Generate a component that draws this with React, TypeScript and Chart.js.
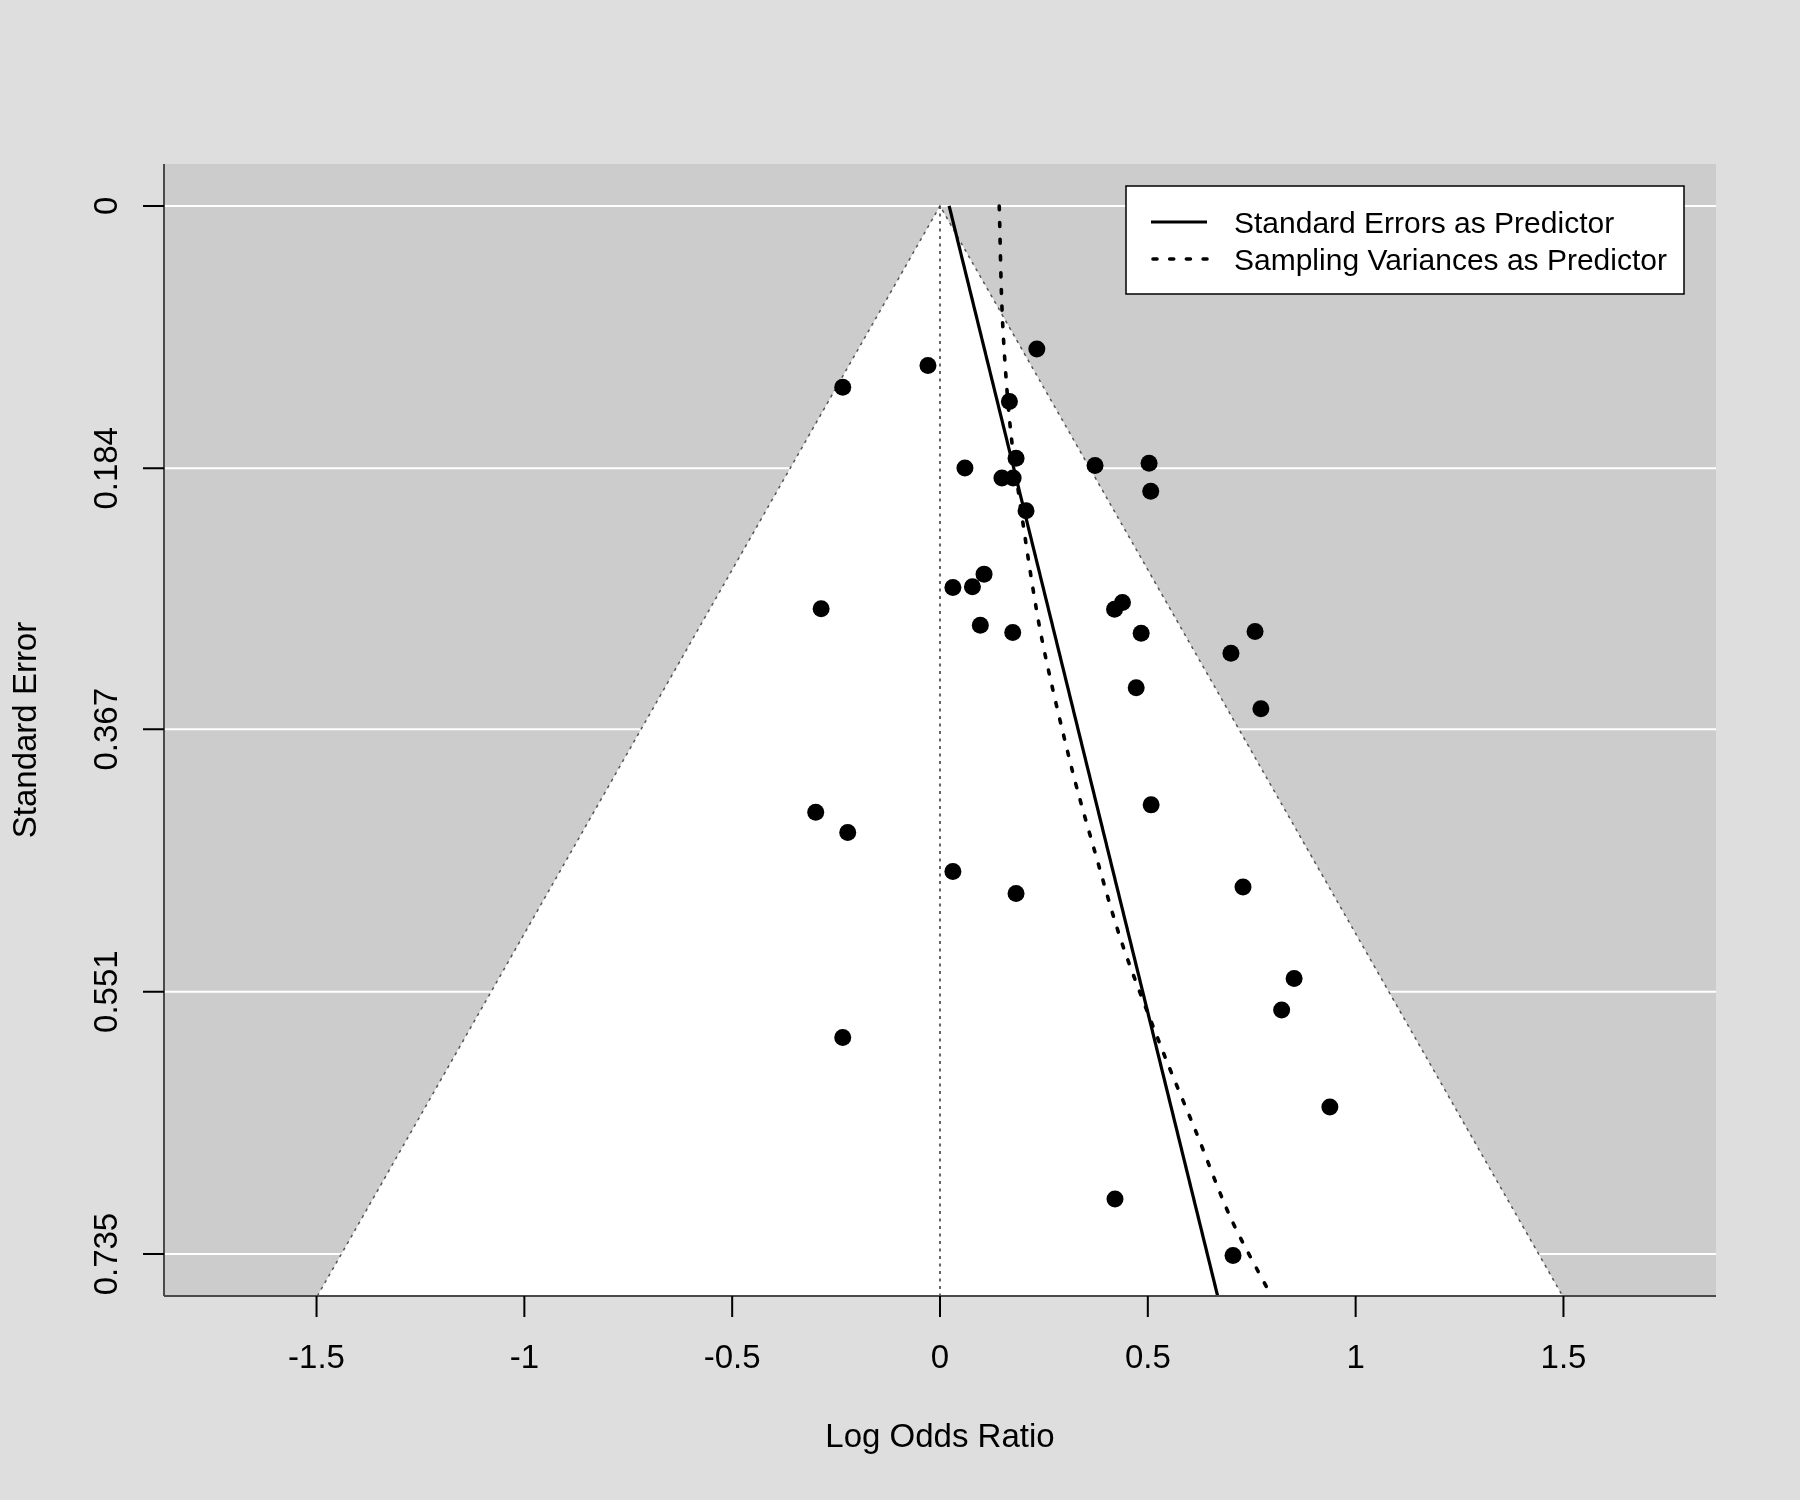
import { useEffect, useRef } from "react";
import { Chart, registerables } from "chart.js";

Chart.register(...registerables);

// observed studies: log odds ratio and its standard error
const studyLogOR = [
  0.233, -0.029, -0.234, 0.167, 0.183, 0.373, 0.503, 0.06, 0.149, 0.176,
  0.507, 0.207, 0.106, 0.031, 0.078, -0.286, 0.42, 0.439, 0.097, 0.175,
  0.484, 0.758, 0.7, 0.472, 0.772, 0.508, -0.299, -0.222, 0.031, 0.183,
  0.729, 0.852, 0.822, -0.234, 0.938, 0.421, 0.705,
];
const studySE = [
  0.1004, 0.1119, 0.1271, 0.1372, 0.177, 0.1821, 0.1805, 0.1837, 0.1908, 0.1908,
  0.2001, 0.2137, 0.2582, 0.2676, 0.2671, 0.2825, 0.2828, 0.2781, 0.294, 0.2992,
  0.2996, 0.2985, 0.3137, 0.3378, 0.3526, 0.42, 0.4251, 0.4394, 0.4668, 0.4822,
  0.4776, 0.5417, 0.5639, 0.5831, 0.6318, 0.6964, 0.736,
];

// regression line, standard errors as predictor
const seLineX = [0.022, 0.668];
const seLineY = [0, 0.7644];

// regression curve, sampling variances as predictor
const varCurveX = [0.1425, 0.1506, 0.169, 0.1987, 0.2444, 0.3166, 0.371, 0.439, 0.5395, 0.6157, 0.6999, 0.796];
const varCurveY = [0, 0.0815, 0.155, 0.2207, 0.3027, 0.394, 0.4513, 0.518, 0.5953, 0.6491, 0.71, 0.7638];

// pseudo confidence region
const funnelX = [-1.498, 0, 1.498];
const funnelY = [0.7644, 0, 0.7644];
const refX = [0, 0];
const refY = [0, 0.7644];

const xTicks = [-1.5, -1, -0.5, 0, 0.5, 1, 1.5];
const xTickLabels = ["-1.5", "-1", "-0.5", "0", "0.5", "1", "1.5"];
const yTicks = [0, 0.184, 0.367, 0.551, 0.735];
const yTickLabels = ["0", "0.184", "0.367", "0.551", "0.735"];

const legendLabels = ["Standard Errors as Predictor", "Sampling Variances as Predictor"];

const FONT = "'Liberation Sans', Arial, Helvetica, sans-serif";

const zip = (xs: number[], ys: number[]) => xs.map((x, i) => ({ x, y: ys[i] }));

const decorPlugin = {
  id: "decor",
  beforeDraw(chart: any) {
    const { ctx, chartArea: a, width, height } = chart;
    const ys = chart.scales.y;
    ctx.save();
    ctx.fillStyle = "#dedede";
    ctx.fillRect(0, 0, width, height);
    ctx.fillStyle = "#cccccc";
    ctx.fillRect(a.left, a.top, a.right - a.left, a.bottom - a.top);
    ctx.strokeStyle = "#ffffff";
    ctx.lineWidth = 2;
    for (const t of yTicks) {
      const py = ys.getPixelForValue(t);
      ctx.beginPath();
      ctx.moveTo(a.left, py);
      ctx.lineTo(a.right, py);
      ctx.stroke();
    }
    ctx.restore();
  },
  afterDraw(chart: any) {
    const { ctx, chartArea: a } = chart;
    const xs = chart.scales.x;
    const ys = chart.scales.y;
    ctx.save();

    // axis lines
    ctx.strokeStyle = "#4a4a4a";
    ctx.lineWidth = 2;
    ctx.beginPath();
    ctx.moveTo(a.left, a.top);
    ctx.lineTo(a.left, a.bottom);
    ctx.moveTo(a.left, a.bottom);
    ctx.lineTo(a.right, a.bottom);
    ctx.stroke();

    // ticks
    ctx.strokeStyle = "#000";
    ctx.lineWidth = 2;
    ctx.beginPath();
    for (const t of xTicks) {
      const px = xs.getPixelForValue(t);
      ctx.moveTo(px, a.bottom);
      ctx.lineTo(px, a.bottom + 21);
    }
    for (const t of yTicks) {
      const py = ys.getPixelForValue(t);
      ctx.moveTo(a.left - 21, py);
      ctx.lineTo(a.left, py);
    }
    ctx.stroke();

    // tick labels
    ctx.fillStyle = "#000";
    ctx.font = `33px ${FONT}`;
    ctx.textAlign = "center";
    ctx.textBaseline = "alphabetic";
    xTicks.forEach((t, i) => {
      ctx.fillText(xTickLabels[i], xs.getPixelForValue(t), a.bottom + 72);
    });
    yTicks.forEach((t, i) => {
      ctx.save();
      ctx.translate(a.left - 47, ys.getPixelForValue(t));
      ctx.rotate(-Math.PI / 2);
      ctx.fillText(yTickLabels[i], 0, 0);
      ctx.restore();
    });

    // axis titles
    ctx.fillText("Log Odds Ratio", (a.left + a.right) / 2, a.bottom + 151);
    ctx.save();
    ctx.translate(36, (a.top + a.bottom) / 2);
    ctx.rotate(-Math.PI / 2);
    ctx.fillText("Standard Error", 0, 0);
    ctx.restore();

    // legend
    const lx = 1126;
    const ly = 186;
    ctx.fillStyle = "#fff";
    ctx.fillRect(lx, ly, 558, 108);
    ctx.strokeStyle = "#000";
    ctx.lineWidth = 1.5;
    ctx.strokeRect(lx, ly, 558, 108);
    ctx.lineWidth = 3.2;
    ctx.beginPath();
    ctx.moveTo(lx + 25, ly + 36);
    ctx.lineTo(lx + 81, ly + 36);
    ctx.stroke();
    ctx.lineWidth = 3.6;
    ctx.setLineDash([4, 12.7]);
    ctx.lineCap = "round";
    ctx.beginPath();
    ctx.moveTo(lx + 27, ly + 73);
    ctx.lineTo(lx + 81, ly + 73);
    ctx.stroke();
    ctx.setLineDash([]);
    ctx.fillStyle = "#000";
    ctx.font = `30px ${FONT}`;
    ctx.textAlign = "left";
    ctx.fillText(legendLabels[0], lx + 108, ly + 47);
    ctx.fillText(legendLabels[1], lx + 108, ly + 84);

    ctx.restore();
  },
};

export default function App() {
  const canvasRef = useRef<HTMLCanvasElement | null>(null);

  useEffect(() => {
    document.body.style.margin = "0";
    if (canvasRef.current == null) return;

    const chart = new Chart(canvasRef.current, {
      type: "scatter",
      data: {
        datasets: [
          {
            label: "Studies",
            data: zip(studyLogOR, studySE),
            backgroundColor: "#000",
            borderWidth: 0,
            pointRadius: 8.5,
            showLine: false,
          },
          {
            label: legendLabels[0],
            data: zip(seLineX, seLineY),
            showLine: true,
            borderColor: "#000",
            borderWidth: 3.2,
            pointRadius: 0,
          },
          {
            label: legendLabels[1],
            data: zip(varCurveX, varCurveY),
            showLine: true,
            borderColor: "#000",
            borderWidth: 3.6,
            borderDash: [4, 12.7],
            borderCapStyle: "round",
            tension: 0.3,
            pointRadius: 0,
          },
          {
            label: "ref",
            data: zip(refX, refY),
            showLine: true,
            borderColor: "#333",
            borderWidth: 1.5,
            borderDash: [3, 4.5],
            pointRadius: 0,
          },
          {
            label: "funnel",
            data: zip(funnelX, funnelY),
            showLine: true,
            fill: "shape",
            backgroundColor: "#ffffff",
            borderColor: "#555",
            borderWidth: 1.5,
            borderDash: [3, 4.5],
            pointRadius: 0,
          },
        ],
      },
      options: {
        responsive: false,
        animation: false,
        devicePixelRatio: 1,
        layout: { padding: { left: 164, top: 164, right: 84, bottom: 204 } },
        scales: {
          x: { type: "linear", min: -1.867, max: 1.867, display: false },
          y: { type: "linear", min: -0.0294, max: 0.7644, reverse: true, display: false },
        },
        plugins: {
          legend: { display: false },
          tooltip: { enabled: false },
        },
      },
      plugins: [decorPlugin],
    });

    return () => {
      chart.destroy();
    };
  }, []);

  return (
    <div style={{ width: 1800, height: 1500, background: "#dedede" }}>
      <canvas ref={canvasRef} width={1800} height={1500}></canvas>
    </div>
  );
}
